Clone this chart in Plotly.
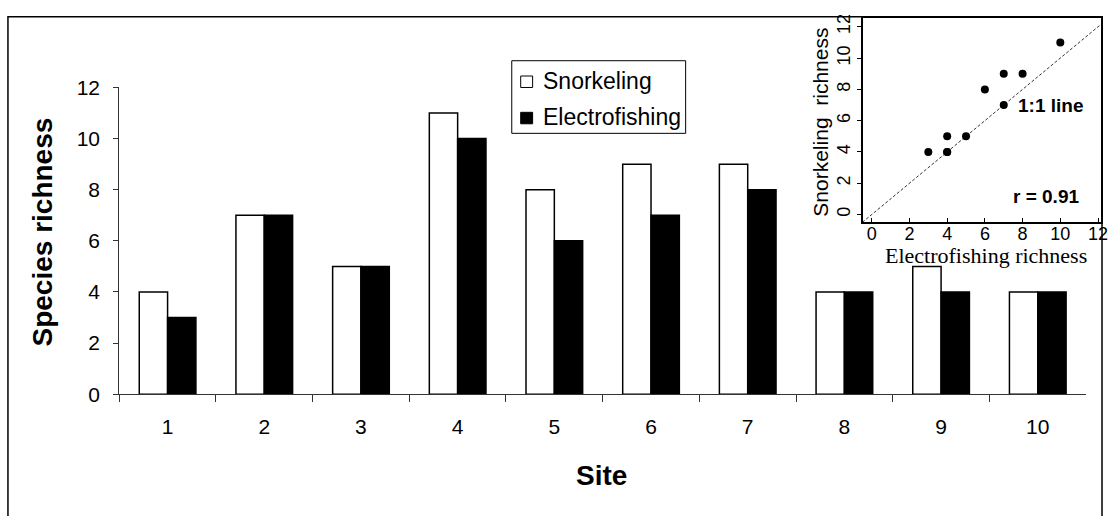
import plotly.graph_objects as go

# Species richness per site, by survey method
sites = ["1", "2", "3", "4", "5", "6", "7", "8", "9", "10"]
snorkeling = [4, 7, 5, 11, 8, 9, 9, 4, 5, 4]
electrofishing = [3, 7, 5, 10, 6, 7, 8, 4, 4, 4]
one_to_one = [-0.5, 13]

W, H = 1111, 516


def fx(p):
    return p / W


def fy(p):
    return 1 - p / H


SANS = "Liberation Sans, Arial, sans-serif"
SERIF = "Liberation Serif, Times New Roman, serif"

fig = go.Figure()

fig.add_trace(go.Bar(
    x=sites, y=snorkeling, name="Snorkeling", showlegend=False,
    marker=dict(color="white", line=dict(color="black", width=1.5)),
    xaxis="x", yaxis="y",
))
fig.add_trace(go.Bar(
    x=sites, y=electrofishing, name="Electrofishing", showlegend=False,
    marker=dict(color="black", line=dict(color="black", width=1.5)),
    xaxis="x", yaxis="y",
))

# inset: snorkeling vs electrofishing richness with a 1:1 reference line
fig.add_trace(go.Scatter(
    x=one_to_one, y=one_to_one, mode="lines",
    line=dict(color="#333333", width=1, dash="3px,2px"),
    showlegend=False, xaxis="x2", yaxis="y2", hoverinfo="skip",
))
fig.add_trace(go.Scatter(
    x=electrofishing, y=snorkeling, mode="markers",
    marker=dict(color="black", size=8),
    showlegend=False, xaxis="x2", yaxis="y2",
))

axis_font = dict(family=SANS, size=21, color="black")
inset_font = dict(family=SANS, size=18, color="black")


def label(text, x, y, size, angle=0, family=SANS, xanchor="center"):
    return dict(text=text, xref="paper", yref="paper", x=fx(x), y=fy(y),
                xanchor=xanchor, yanchor="middle", textangle=angle,
                showarrow=False, font=dict(family=family, size=size, color="black"))


# legend box with one swatch per series
legend_shapes = [
    dict(type="rect", xref="paper", yref="paper",
         x0=fx(515), x1=fx(690), y0=fy(127), y1=fy(51),
         line=dict(color="black", width=1), fillcolor="white"),
    dict(type="rect", xref="paper", yref="paper",
         x0=fx(524), x1=fx(536), y0=fy(79), y1=fy(67),
         line=dict(color="black", width=1), fillcolor="white"),
    dict(type="rect", xref="paper", yref="paper",
         x0=fx(524), x1=fx(536), y0=fy(117), y1=fy(105),
         line=dict(color="black", width=1), fillcolor="black"),
]

fig.update_layout(
    width=W, height=H,
    margin=dict(l=0, r=0, t=0, b=0),
    paper_bgcolor="white", plot_bgcolor="white",
    barmode="group", bargap=0.414, bargroupgap=0,
    font=dict(family=SANS, color="black"),
    showlegend=False,
    xaxis=dict(
        domain=[fx(120), fx(1093)], anchor="y",
        type="category", categoryorder="array", categoryarray=sites,
        showline=True, linecolor="#333333", linewidth=1,
        ticks="outside", tickson="boundaries", ticklen=7, tickcolor="#333333",
        tickfont=axis_font, ticklabelstandoff=14,
        showgrid=False, zeroline=False, fixedrange=True,
    ),
    yaxis=dict(
        domain=[fy(400), fy(79)], anchor="x",
        range=[0, 12], dtick=2,
        showline=True, linecolor="#333333", linewidth=1,
        ticks="outside", ticklen=5, tickcolor="#333333",
        tickfont=axis_font, ticklabelstandoff=9,
        showgrid=False, zeroline=False, fixedrange=True,
    ),
    xaxis2=dict(
        domain=[fx(868), fx(1108)], anchor="y2",
        range=[-0.49, 12.16], dtick=2,
        showline=True, mirror=True, linecolor="black", linewidth=1.5,
        ticks="inside", ticklen=4, tickcolor="black",
        tickfont=inset_font, ticklabelstandoff=-6, ticklabeloverflow="allow",
        showgrid=False, zeroline=False, fixedrange=True,
    ),
    yaxis2=dict(
        domain=[fy(220), fy(6)], anchor="x2",
        range=[-0.49, 12.58], dtick=2,
        showline=True, mirror=True, linecolor="black", linewidth=1.5,
        ticks="outside", ticklen=4, tickcolor="black",
        tickfont=inset_font, tickangle=-90, ticklabelstandoff=0,
        showgrid=False, zeroline=False, fixedrange=True,
    ),
    shapes=[
        dict(type="rect", xref="paper", yref="paper",
             x0=fx(8), x1=fx(1109), y0=fy(530), y1=fy(5),
             line=dict(color="black", width=1.5), fillcolor="rgba(0,0,0,0)",
             layer="above"),
    ] + legend_shapes,
    annotations=[
        label("<b>Species richness</b>", 43, 230, 28, angle=-90),
        label("<b>Site</b>", 605, 485, 28),
        label("Snorkeling\u00a0 richness", 826, 115, 21, angle=-90),
        label("Electrofishing richness", 992, 255, 22, family=SERIF),
        label("<b>1:1 line</b>", 1057, 98, 19),
        label("<b>r = 0.91</b>", 1053, 193, 19),
        label("Snorkeling", 544, 72, 23, xanchor="left"),
        label("Electrofishing", 544, 110, 23, xanchor="left"),
    ],
)

fig.write_html("out.html")
